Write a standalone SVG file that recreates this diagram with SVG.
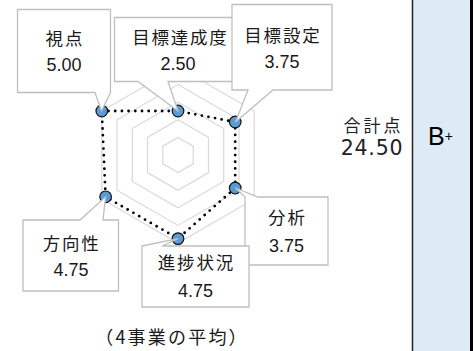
<svg xmlns="http://www.w3.org/2000/svg" width="474" height="351" viewBox="0 0 474 351">
<style>
.grid{fill:none;stroke:#D9D9D9;stroke-width:1.2}
.co{fill:#FFFFFF;stroke:#BFBFBF;stroke-width:1.3;stroke-linejoin:miter}
.lb{font-family:"Noto Sans CJK JP","Noto Sans CJK SC",sans-serif;font-size:17.5px;letter-spacing:1.8px;fill:#1a1a1a;text-anchor:middle}
.nv{font-family:"Liberation Sans",Arial,sans-serif;font-size:18px;fill:#1a1a1a;text-anchor:middle}
.pt{fill:#5B9BD5;stroke:#111111;stroke-width:1.2}
</style>
<rect x="0" y="0" width="474" height="351" fill="#FFFFFF"/>
<!-- panel -->
<g id="panel">
<rect x="412" y="0" width="60" height="351" fill="#DDEBF7"/>
<line x1="412.5" y1="0" x2="412.5" y2="351" stroke="#222222" stroke-width="1.5"/>
<line x1="471.5" y1="0" x2="471.5" y2="351" stroke="#000000" stroke-width="3"/>
<text x="428" y="145" font-family="Liberation Sans,Arial,sans-serif" font-size="25" fill="#000">B<tspan font-size="14" dy="-4">+</tspan></text>
</g>
<g id="total">
<text x="373.5" y="132" font-family="Noto Sans CJK JP,sans-serif" font-size="17" letter-spacing="3" text-anchor="middle" fill="#222">合計点</text>
<text x="372" y="155" font-family="DejaVu Sans,sans-serif" font-size="20.5" letter-spacing="0.8" text-anchor="middle" fill="#222">24.50</text>
</g>
<!-- radar grid -->
<g id="grid">
<polygon class="grid" points="178,137.4 193.2,146.2 193.2,163.8 178,172.6 162.8,163.8 162.8,146.2"/>
<polygon class="grid" points="178,119.8 208.5,137.4 208.5,172.6 178,190.2 147.5,172.6 147.5,137.4"/>
<polygon class="grid" points="178,102.2 223.7,128.6 223.7,181.4 178,207.8 132.3,181.4 132.3,128.6"/>
<polygon class="grid" points="178,84.6 239,119.8 239,190.2 178,225.4 117,190.2 117,119.8"/>
<polygon class="grid" points="178,67 254.2,111 254.2,199 178,243 101.8,199 101.8,111"/>
</g>
<!-- data series -->
<g id="connectors">
<polygon points="101.8,111 178,111 235.2,122 235.2,188 178,238.6 105.6,196.8" fill="none" stroke="#000" stroke-width="2.8" stroke-dasharray="0 6.7" stroke-linecap="round"/>
</g>
<g id="markers">
<circle class="pt" cx="101.8" cy="111" r="5.8"/>
<circle class="pt" cx="178" cy="111" r="5.8"/>
<circle class="pt" cx="235.2" cy="122" r="5.8"/>
<circle class="pt" cx="235.2" cy="188" r="5.8"/>
<circle class="pt" cx="178" cy="238.6" r="5.8"/>
<circle class="pt" cx="105.6" cy="196.8" r="5.8"/>
</g>
<!-- callouts -->
<g id="shiten">
<path class="co" d="M17.5,9.5 H110.5 V92.5 L101.5,111 L95,92.5 H17.5 Z"/>
<text class="lb" x="64.9" y="45">視点</text>
<text class="nv" x="64" y="71">5.00</text>
</g>
<g id="tassei">
<path class="co" d="M114.5,17.5 H240 V81.5 H168 L178,111 L138,81.5 H114.5 Z"/>
<text class="lb" x="180.4" y="44">目標達成度</text>
<text class="nv" x="178" y="70">2.50</text>
</g>
<g id="settei">
<path class="co" d="M232,4.5 H332 V90 H273 L235.5,122 L248,90 H232 Z"/>
<text class="lb" x="282.9" y="42">目標設定</text>
<text class="nv" x="282" y="68">3.75</text>
</g>
<g id="bunseki">
<path class="co" d="M245,197 L235.5,188 L258,197 H328 V265 H245 Z"/>
<text class="lb" x="287.4" y="224">分析</text>
<text class="nv" x="286.5" y="252">3.75</text>
</g>
<g id="shinchoku">
<path class="co" d="M142,246 L178,238.6 L162,246 H249 V307 H142 Z"/>
<text class="lb" x="196.4" y="269">進捗状況</text>
<text class="nv" x="195.5" y="297">4.75</text>
</g>
<g id="houkou">
<path class="co" d="M23,220 H80 L105.6,196.8 L103,220 H118.5 V291 H23 Z"/>
<text class="lb" x="71.6" y="250">方向性</text>
<text class="nv" x="71" y="276">4.75</text>
</g>
<text x="172" y="344" font-family="Noto Sans CJK JP,sans-serif" font-size="18" letter-spacing="2.2" text-anchor="middle" fill="#1a1a1a">（4事業の平均）</text>
</svg>
